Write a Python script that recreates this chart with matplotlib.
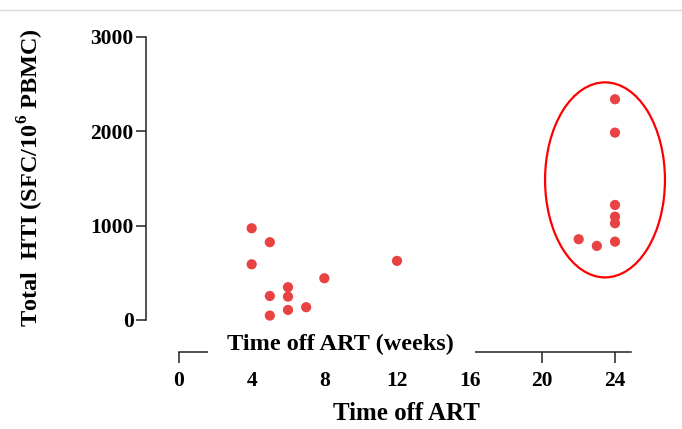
import matplotlib
matplotlib.use("Agg")
from matplotlib import pyplot as plt
from matplotlib.patches import Ellipse, Rectangle
from matplotlib.lines import Line2D

# weeks off ART vs total HTI response
weeks = [4, 5, 4, 8, 12, 6, 6, 5, 6, 7, 5,
         24, 24, 24, 24, 24, 24, 22, 23]
hti = [972, 824, 590, 442, 626, 347, 247, 254, 106, 135, 46,
       2340, 1986, 1219, 1095, 1025, 830, 856, 785]

x_ticks = [0, 4, 8, 12, 16, 20, 24]
y_ticks = [0, 1000, 2000, 3000]

W, H = 682, 429
plt.rcParams['font.family'] = ['Liberation Serif', 'DejaVu Serif']
plt.rcParams['font.weight'] = 'bold'
plt.rcParams['mathtext.fontset'] = 'custom'
plt.rcParams['mathtext.rm'] = 'Liberation Serif:bold'
plt.rcParams['mathtext.bf'] = 'Liberation Serif:bold'

fig = plt.figure(figsize=(W / 100, H / 100), dpi=100)

# axes placed in pixel terms: x 0 -> 179px, 24 -> 615px ; y 3000 -> 37px, -340 -> 352px
px_per_wk = (615 - 179) / 24.0
x_lo = (146 - 179) / px_per_wk
x_hi = 25.0
left = 146 / W
width = (x_hi - x_lo) * px_per_wk / W
top_px, bot_px = 37, 352
ax = fig.add_axes([left, (H - bot_px) / H, width, (bot_px - top_px) / H])
ax.set_xlim(x_lo, x_hi)
ax.set_ylim(-340, 3000)

ax.scatter(weeks, hti, s=54, color='#e94242', edgecolors='none', zorder=3, clip_on=False)

ax.add_patch(Ellipse((23.45, 1485), 6.6, 2068, fill=False, edgecolor='#ff0000',
                     linewidth=1.6, clip_on=False, zorder=4))

for s in ['top', 'right']:
    ax.spines[s].set_visible(False)
ax.spines['left'].set_bounds(0, 3000)
ax.spines['bottom'].set_bounds(0, 24.9)
for s in ['left', 'bottom']:
    ax.spines[s].set_linewidth(1.1)
    ax.spines[s].set_color('#222222')

ax.set_xticks(x_ticks)
ax.set_yticks(y_ticks)
ax.tick_params(axis='y', length=7, width=1.1, color='#222222', pad=2, labelsize=15.5)
ax.tick_params(axis='x', length=8, width=1.1, color='#222222', pad=6, labelsize=15.5)

# white block hiding part of the x axis behind the inner label
fig.patches.append(Rectangle((208 / W, (H - 366) / H), (475 - 208) / W, 36 / H,
                             transform=fig.transFigure, facecolor='white',
                             edgecolor='none', zorder=5))
fig.text(340 / W, 1 - 344 / H, 'Time off ART (weeks)', ha='center', va='center',
         fontsize=17.5, fontweight='bold', zorder=6)
fig.text(406 / W, 1 - 414 / H, 'Time off ART', ha='center', va='center',
         fontsize=18, fontweight='bold')
fig.text(31 / W, 1 - 178 / H, 'Total  HTI (SFC/10$^{\\mathbf{6}}$ PBMC)', ha='center', va='center',
         rotation=90, fontsize=17.5, fontweight='bold')

# thin grey line across the top of the screenshot
fig.lines.append(Line2D([0, 1], [1 - 9.5 / H, 1 - 9.5 / H], transform=fig.transFigure,
                        color='#d9d9d9', linewidth=1))

fig.savefig('out.png', dpi=100)
